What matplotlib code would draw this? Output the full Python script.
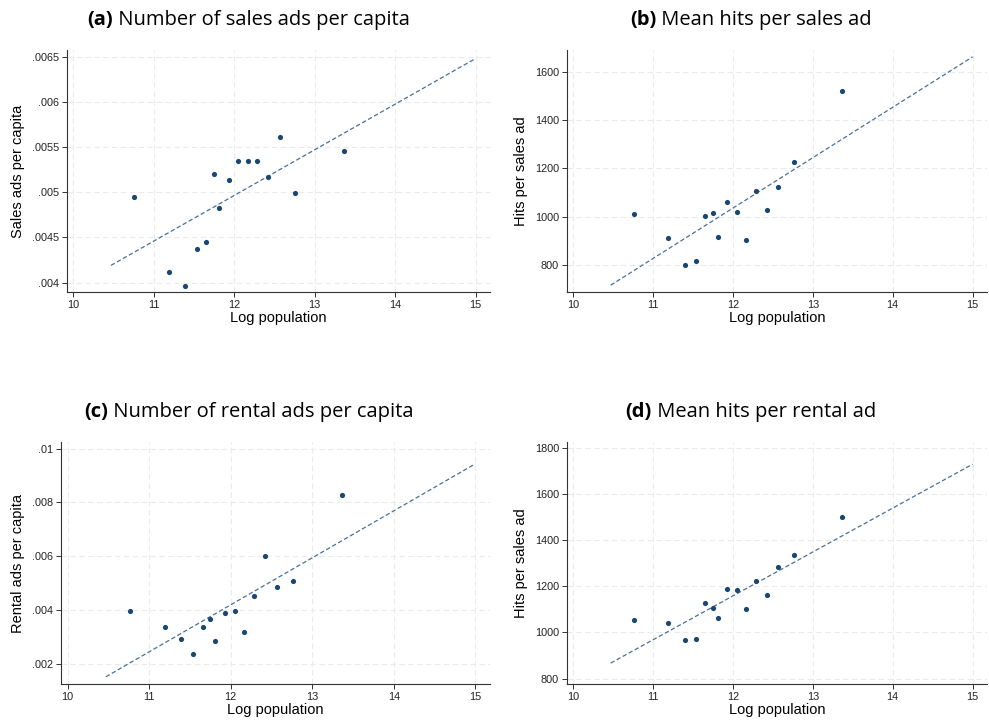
import matplotlib
matplotlib.use("Agg")
import matplotlib.pyplot as plt
import numpy as np

# log population (bin means, shared by all four panels)
log_pop = [10.76, 11.19, 11.395, 11.533, 11.655, 11.752, 11.814, 11.931,
           12.051, 12.167, 12.288, 12.427, 12.567, 12.763, 13.36]

sales_per_capita = [.004944, .004122, .003967, .004369, .004454, .005198, .00483,
                    .005136, .005342, .005342, .005346, .005173, .005608, .004996,
                    .005453]
hits_sales = [1011, 912, 800, 818, 1003, 1016, 916, 1062, 1018, 905, 1105, 1028,
              1123, 1226, 1523]
rental_per_capita = [.003957, .003362, .002929, .002372, .003362, .003684, .002842,
                     .003907, .003981, .003176, .004526, .006025, .004861, .005084,
                     .008266]
hits_rental = [1056, 1042, 967, 970, 1129, 1106, 1061, 1188, 1186, 1101, 1225, 1161,
               1286, 1336, 1503]

x_ticks = [10, 11, 12, 13, 14, 15]
a_ticks = [.004, .0045, .005, .0055, .006, .0065]
a_labels = ['.004', '.0045', '.005', '.0055', '.006', '.0065']
b_ticks = [800, 1000, 1200, 1400, 1600]
c_ticks = [.002, .004, .006, .008, .01]
c_labels = ['.002', '.004', '.006', '.008', '.01']
d_ticks = [800, 1000, 1200, 1400, 1600, 1800]

panels = [
    ("(a)", "Number of sales ads per capita", "Sales ads per capita",
     sales_per_capita, a_ticks, a_labels, (0.003893, 0.006574)),
    ("(b)", "Mean hits per sales ad", "Hits per sales ad",
     hits_sales, b_ticks, [str(t) for t in b_ticks], (687, 1691)),
    ("(c)", "Number of rental ads per capita", "Rental ads per capita",
     rental_per_capita, c_ticks, c_labels, (0.001245, 0.010235)),
    ("(d)", "Mean hits per rental ad", "Hits per sales ad",
     hits_rental, d_ticks, [str(t) for t in d_ticks], (775, 1826)),
]

W, H = 989, 724
fig = plt.figure(figsize=(W / 100, H / 100), dpi=100)

# axes boxes in pixels: left, top, right, bottom
boxes = [(66.7, 50, 490, 292.3), (566.7, 50, 987, 292.3),
         (61, 442.3, 490, 684.3), (566.7, 442.3, 987, 684.3)]
title_pos = [(249, 20), (751, 20), (249, 412), (751, 412)]

dot = '#1a476f'
fit_col = '#4a6f98'
tick_font = 'Liberation Sans'
title_font = 'Open Sans'

for (tag, title, ylab, yvals, yt, ytl, ylim), (l, t, r, b), (tx, ty) in zip(panels, boxes, title_pos):
    ax = fig.add_axes([l / W, 1 - b / H, (r - l) / W, (b - t) / H])
    x = np.array(log_pop)
    y = np.array(yvals)
    ax.scatter(x, y, s=14, color=dot, zorder=3, linewidths=0)
    k, c0 = np.polyfit(x, y, 1)
    xs = np.array([10.47, 15.0])
    ax.plot(xs, c0 + k * xs, color=fit_col, lw=0.9, dashes=(3.5, 2), zorder=2)

    ax.set_xlim(9.92, 15.18)
    ax.set_ylim(*ylim)
    ax.set_xticks(x_ticks)
    ax.set_yticks(yt)
    ax.set_yticklabels(ytl)
    for lab in ax.get_xticklabels() + ax.get_yticklabels():
        lab.set_fontfamily(tick_font)
        lab.set_fontsize(7.8)
        lab.set_color('#222222')
    ax.tick_params(direction='out', length=3.5, width=0.7, color='#333333', pad=2)
    ax.grid(True, color='#ebebeb', lw=0.8, dashes=(5, 3))
    ax.set_axisbelow(True)
    for s in ['top', 'right']:
        ax.spines[s].set_visible(False)
    for s in ['left', 'bottom']:
        ax.spines[s].set_color('#333333')
        ax.spines[s].set_linewidth(0.8)
    ax.set_xlabel("Log population", fontfamily=tick_font, fontsize=10.5, labelpad=1)
    ax.set_ylabel(ylab, fontfamily=tick_font, fontsize=10.5, labelpad=5)

    # title: bold tag + regular text, centred together
    t1 = fig.text(0, 0, tag, fontfamily=title_font, fontweight='bold', fontsize=14.5)
    t2 = fig.text(0, 0, " " + title, fontfamily=title_font, fontsize=14.5)
    rend = fig.canvas.get_renderer()
    w1 = t1.get_window_extent(rend).width
    w2 = t2.get_window_extent(rend).width
    x0 = tx - (w1 + w2) / 2
    for txt, xx in ((t1, x0), (t2, x0 + w1)):
        txt.set_position((xx / W, 1 - ty / H))
        txt.set_va('center')

fig.savefig("out.png", dpi=100)
